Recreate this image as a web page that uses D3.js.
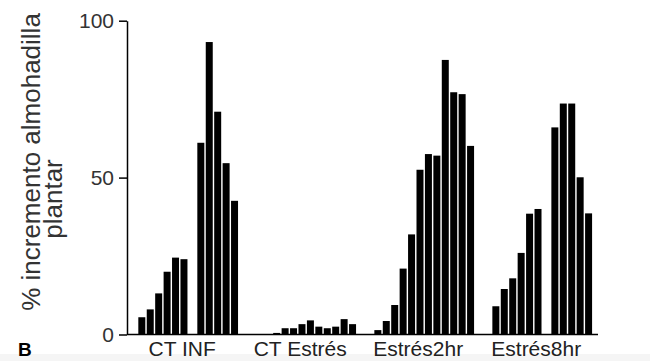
<!DOCTYPE html>
<html>
<head>
<meta charset="utf-8">
<script src="https://cdn.jsdelivr.net/npm/d3@7"></script>
<style>
  body { margin: 0; background: #fff; }
  svg { display: block; font-family: "Liberation Sans", Arial, sans-serif; }
</style>
</head>
<body>
<svg id="chart" width="650" height="361"></svg>
<script>
const groups = ['CT INF', 'CT Estrés', 'Estrés2hr', 'Estrés8hr'];
const slots = d3.range(12);

// null = empty slot (no bar)
const ctInf = [5.5, 8.0, 13.1, 20.0, 24.5, 24.0, null, 61.1, 93.2, 71.0, 54.6, 42.6];
const ctEstres = [null, null, 0.5, 2.0, 2.0, 3.3, 4.5, 2.5, 2.0, 2.5, 4.9, 3.3];
const estres2hr = [1.4, 4.3, 9.4, 21.0, 31.9, 52.5, 57.5, 57.0, 87.5, 77.2, 76.6, 60.1];
const estres8hr = [9.0, 14.5, 17.9, 26.0, 38.5, 40.0, null, 66.0, 73.6, 73.6, 50.1, 38.6];
const seriesByGroup = [ctInf, ctEstres, estres2hr, estres8hr];

const yTicks = [0, 50, 100];

const axisX = 127;
const baseY = 334.5;
const topY = 20.7;

const svg = d3.select('#chart');

// faint band at the very bottom of the original scan
svg.append('rect').attr('x', 0).attr('y', 354).attr('width', 650).attr('height', 7).attr('fill', '#f5f5f5');

const yScale = d3.scaleLinear().domain([0, 100]).range([baseY, topY]);
const x0 = d3.scaleBand().domain(groups).range([137.6, 592.8]).paddingInner(2 / 14).paddingOuter(0);
const x1 = d3.scaleBand().domain(slots).range([0, x0.bandwidth()]).paddingInner(0.17).paddingOuter(0.085);

const bars = svg.append('g');
groups.forEach((g, gi) => {
  bars.append('g').attr('transform', `translate(${x0(g)}, 0)`)
    .selectAll('rect')
    .data(seriesByGroup[gi].map((v, i) => ({slot: i, value: v})).filter(d => d.value !== null))
    .enter().append('rect')
    .attr('x', d => x1(d.slot))
    .attr('width', x1.bandwidth())
    .attr('y', d => yScale(d.value))
    .attr('height', d => baseY - yScale(d.value))
    .attr('fill', '#000');
});

// baseline
svg.append('line').attr('x1', axisX).attr('x2', 598).attr('y1', baseY).attr('y2', baseY)
  .attr('stroke', '#000').attr('stroke-width', 1.5);

const yAxis = d3.axisLeft(yScale).tickValues(yTicks).tickSize(8).tickSizeOuter(0).tickPadding(5);
const yAxisGroup = svg.append('g').attr('transform', `translate(${axisX}, 0)`).call(yAxis);
yAxisGroup.select('.domain').attr('stroke-width', 1.5);
yAxisGroup.selectAll('.tick line').attr('stroke-width', 1.5);
yAxisGroup.selectAll('text').attr('font-size', 21).attr('fill', '#333').attr('font-family', '"Liberation Sans", Arial, sans-serif');

// group labels: baseline kept just inside the bottom edge
const xAxis = d3.axisBottom(x0).tickSize(0).tickPadding(6.6);
const xAxisGroup = svg.append('g').attr('transform', `translate(0, ${baseY})`).call(xAxis);
xAxisGroup.select('.domain').remove();
xAxisGroup.selectAll('text').attr('font-size', 21).attr('fill', '#222').attr('dx', -6)
  .attr('font-family', '"Liberation Sans", Arial, sans-serif');

// y title, two lines
svg.append('text').attr('transform', 'translate(40, 162) rotate(-90)').attr('text-anchor', 'middle')
  .attr('font-size', 26).attr('fill', '#333').text('% incremento almohadilla');
svg.append('text').attr('transform', 'translate(62, 199) rotate(-90)').attr('text-anchor', 'middle')
  .attr('font-size', 26).attr('fill', '#333').text('plantar');

svg.append('text').attr('x', 18).attr('y', 356).attr('font-size', 19).attr('font-weight', 'bold')
  .attr('fill', '#000').text('B');
</script>
</body>
</html>
